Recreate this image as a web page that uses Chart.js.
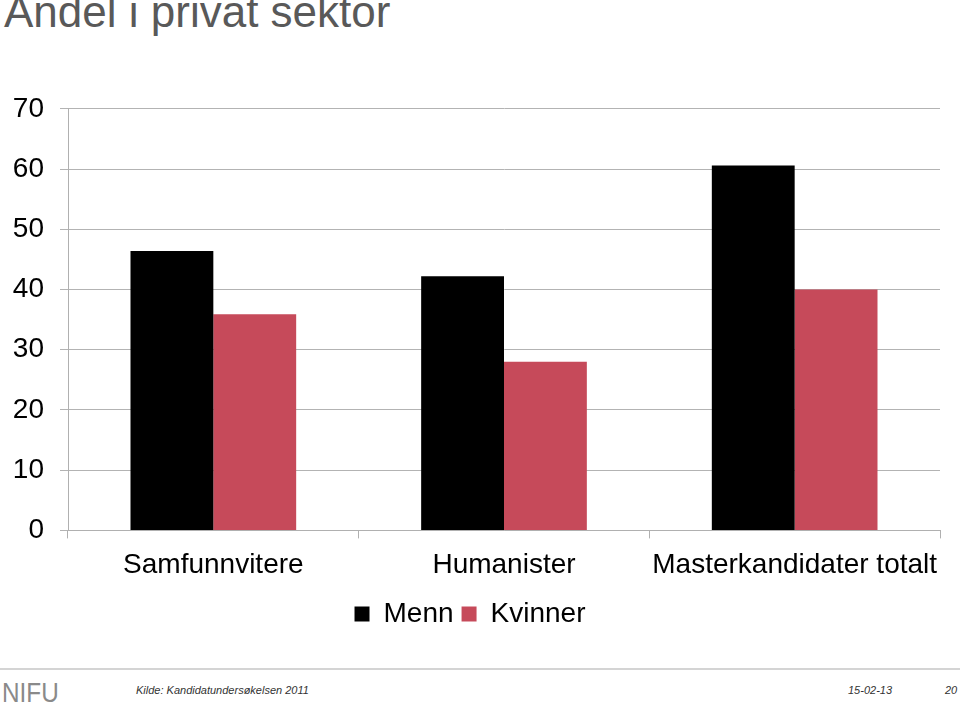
<!DOCTYPE html>
<html>
<head>
<meta charset="utf-8">
<script src="https://cdn.jsdelivr.net/npm/chart.js@4"></script>
<style>
  body { margin: 0; background: #fff; font-family: "Liberation Sans", Arial, sans-serif; }
  #wrap { position: relative; width: 960px; height: 707px; overflow: hidden; }
  #title { position: absolute; left: 4px; top: -13px; font-size: 44px; color: #595959; white-space: nowrap; }
  #chartBox { position: absolute; left: 0; top: 76px; width: 960px; height: 562px; }
  #rule { position: absolute; left: 0; top: 668px; width: 960px; height: 2px; background: #d4d4d4; }
  .foot { position: absolute; font-size: 11px; font-style: italic; color: #333; white-space: nowrap; }
  #logo { position: absolute; left: 2px; top: 678px; font-size: 27px; color: #8a8a8a; transform: scaleX(0.9); transform-origin: left top; }
</style>
</head>
<body>
<div id="wrap">
  <div id="title">Andel i privat sektor</div>
  <div id="chartBox"><canvas id="barCanvas"></canvas></div>
  <div id="rule"></div>
  <div id="logo">NIFU</div>
  <div class="foot" style="left:136px; top:684px;">Kilde: Kandidatundersøkelsen 2011</div>
  <div class="foot" style="left:848px; top:684px;">15-02-13</div>
  <div class="foot" style="left:945px; top:684px;">20</div>
</div>
<script>
const categories = ["Samfunnvitere", "Humanister", "Masterkandidater totalt"];
const menn = [46.4, 42.2, 60.6];
const kvinner = [35.9, 28.0, 40.0];
const yTicks = [0, 10, 20, 30, 40, 50, 60, 70];

const barCanvas = document.getElementById("barCanvas");

const barChart = new Chart(barCanvas, {
    type: "bar",
    data: {
        labels: categories,
        datasets: [
            { label: "Menn", data: menn, backgroundColor: "#000000" },
            { label: "Kvinner", data: kvinner, backgroundColor: "#c64a5a" }
        ]
    },
    options: {
        responsive: true,
        maintainAspectRatio: false,
        animation: false,
        layout: { padding: { top: 0, right: 20, bottom: 0, left: 0 } },
        datasets: { bar: { categoryPercentage: 0.57, barPercentage: 1 } },
        plugins: {
            legend: {
                position: "bottom",
                labels: {
                    color: "#000",
                    font: { family: "Liberation Sans", size: 28 },
                    boxWidth: 15,
                    boxHeight: 15,
                    padding: 8
                }
            },
            tooltip: { enabled: false }
        },
        scales: {
            x: {
                grid: { drawOnChartArea: false, drawTicks: true, tickLength: 8, color: "#b0b0b0", offset: true },
                border: { color: "#b0b0b0" },
                ticks: { color: "#000", font: { family: "Liberation Sans", size: 28 }, padding: 10, maxRotation: 0 }
            },
            y: {
                min: 0,
                max: 70,
                afterBuildTicks: (scale) => { scale.ticks = yTicks.map(v => ({ value: v })); },
                afterFit: (scale) => { scale.width = 68; },
                grid: { color: "#b3b3b3", tickLength: 8 },
                border: { color: "#b0b0b0" },
                ticks: { color: "#000", font: { family: "Liberation Sans", size: 28 }, padding: 16 }
            }
        }
    }
});
</script>
</body>
</html>
